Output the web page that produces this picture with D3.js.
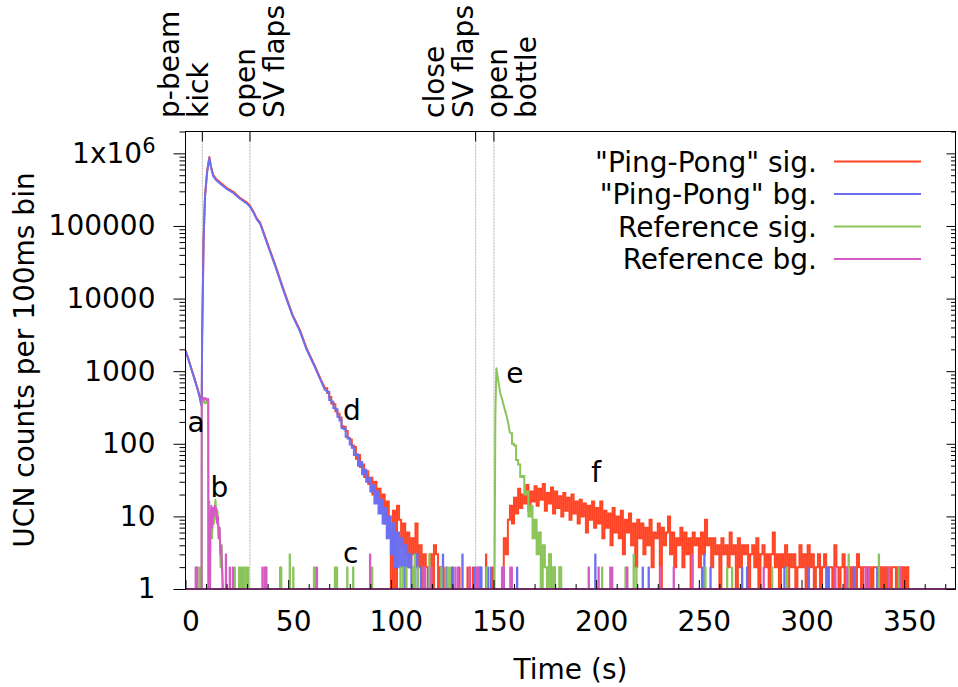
<!DOCTYPE html>
<html>
<head>
<meta charset="utf-8">
<script src="https://cdn.jsdelivr.net/npm/d3@7"></script>
<style>
  body { margin: 0; background: #fff; }
  svg text { font-family: "DejaVu Sans", sans-serif; fill: #000; }
</style>
</head>
<body>
<svg id="chart" width="958" height="687"></svg>
<script>
// ---- data (time in s, counts per 100 ms bin) ----
const seriesNames = ['"Ping-Pong" sig.', '"Ping-Pong" bg.', 'Reference sig.', 'Reference bg.'];
const seriesColors = ["#ff4525", "#6b6ff0", "#8ac45b", "#d65ac4"];

const eventTimes = [8.2, 31.4, 141.3, 150.2];
const eventLabels = [["p-beam", "kick"], ["open", "SV flaps"], ["close", "SV flaps"], ["open", "bottle"]];
const eventLabelT = [-3.4, 34.0, 126.0, 156.8];

const xTicks = [0, 50, 100, 150, 200, 250, 300, 350];
const yTicks = [1, 10, 100, 1000, 10000, 100000, 1000000];

const notes = [["a", 1.0, 145], ["b", 12.2, 18.5], ["c", 76.7, 2.28], ["d", 76.7, 213], ["e", 156.2, 688], ["f", 197.6, 29.8]];

const pingSigCurve = [[0,1950],[1,1600],[2,1300],[3,1050],[4,860],[5,700],[6,560],[7,440],[7.6,360],[7.9,345],
  [8.1,3000],[8.4,11000],[8.8,65000],[9.5,260000],[10.5,560000],[11.6,890000],[12.4,660000],[13.5,505000],
  [15,440000],[16.8,400000],[20,335000],[23.3,295000],[26.5,245000],[29.8,212000],[31.4,190000],[33,160000],
  [34.7,127000],[36.3,112000],[40,57000],[44,27500],[47.6,13700],[52,6100],[55.8,3650],[59,2050],[63,1180],
  [66,760],[68,580]];
const pingSigTailStart = 68;
const pingSigTail = [580,500,440,360,350,280,260,230,175,170,150,120,115,95,90,62,70,48,52,35,42,28,34,20,30,16,
  24,12,20,8,16,6,1,12,1,14,9,4,8,3,6,2,5,3,8,2,4,1,3,2,1,3,1,4,3,1,2,1];
const pingSigBumpStart = 153;
const pingSigBump = [1,1,5,3,9,14,8,18,11,24,13,20,15,27,12,22,16,26,14,24,17,28,12,21,15,25,11,22,13,19,
  10,21,12,18,9,20,11,16,8,17,10,15,6,14,9,16,7,13,8,16,5,12,7,11,4,13,6,10,5,12,
  3,9,6,11,4,8,2,9,5,8,3,7,4,9,2,6,5,8,1,7,4,6,10,3,6,2,5,4,7,2,
  6,3,5,1,6,4,5,2,6,3,9,4,5,2,5,3,4,1,5,3,4,2,6,3,4,1,5,2,4,3,
  4,1,3,4,2,5,1,3,4,2,3,1,3,6,2,3,1,3,2,4,1,3,2,3,1,2,4,2,3,1,
  4,2,3,1,2,3,1,2,3,1,2,2,1,4,2,1,2,3,1,2,2,1,2,1,3,2,1,2,2,1,
  2,1,2,2,1,2,1,2,1,2,1,2,2,1,2,1,2,1,2,1];
const pingSigSpikes = [[125.5,2],[129.6,2],[133.2,2],[137.2,2],[138.3,2],[139.8,2],[143.1,2],[146.2,3],[149.4,2]];

const pingBgCurve = [[0,1900],[1,1580],[2,1280],[3,1030],[4,840],[5,680],[6,545],[7,425],[7.6,345],[7.9,330],
  [8.1,2800],[8.4,10500],[8.8,62000],[9.5,250000],[10.5,540000],[11.6,860000],[12.4,640000],[13.5,485000],
  [15,425000],[16.8,385000],[20,325000],[23.3,285000],[26.5,237000],[29.8,205000],[31.4,184000],[33,155000],
  [34.7,123000],[36.3,108000],[40,55000],[44,26500],[47.6,13200],[52,5900],[55.8,3500],[59,1980],[63,1140],
  [66,730],[68,540]];
const pingBgTailStart = 68;
const pingBgTail = [540,520,400,380,310,300,235,210,165,160,125,118,98,88,70,72,50,56,38,44,30,34,22,27,15,22,
  11,17,8,13,5,10,3,8,2,6,2,5,1,4,2,3,1,2,3,1];
const pingBgSpikes = [[114.5,2],[118,2],[124.4,2],[125.2,3],[126.9,2],[130.1,2],[134.7,3],[140.7,2],[141.8,2],
  [143.4,2],[143.9,2],[147.2,2],[148.6,2],[154.8,2],[161.3,2],[199.4,3],[222.5,2],[225.4,2],[251.4,2],[252.5,3],
  [255.5,2],[270.9,2],[273.3,2],[291.5,2],[303.4,2],[312.3,2],[313.1,2],[325.3,2],[336.7,2]];

const refSigCurve = [[7.85,1],[7.95,380],[8.5,372],[9,390],[9.5,360],[10,380],[10.5,365],[11.05,375],[11.15,1],
  [11.5,1],[11.6,16],[11.9,4],[12.4,9],[12.9,5],[13.4,12],[13.9,8],[14.6,17],[15.1,9],[15.6,12],[16.1,5],
  [16.6,7],[17.1,2],[17.6,4],[18.1,1]];
const refSigPeak = [[150.5,1],[150.9,250],[151.4,1100],[152.2,780],[153.2,510],[154.3,400],[155.3,310],
  [156.4,240],[157.2,190],[158,140]];
const refSigTailStart = 158;
const refSigTail = [140,100,95,60,52,35,36,20,22,10,14,5,9,3,6,1,4,2,1,3,1,2,1,1,2,1];
const refSigSpikes = [[5.7,2],[6.9,2],[23.8,2],[25.9,2],[26.8,2],[27.8,2],[28.6,2],[29.6,2],[30.3,2],[39.2,2],
  [45.9,2],[46.4,2],[50.6,3],[52.3,2],[62.4,2],[63,2],[72.6,2],[73.6,2],[78.6,2],[81.5,2],[90.7,2],[104.5,2],
  [105.7,2],[107.4,2],[110.7,2],[111.5,3],[113,2],[118.6,3],[124.4,2],[127.5,2],[128.5,2],[146.4,2],[202.7,2],
  [214.1,2],[214.9,2],[218.1,3],[219.4,2],[253,2],[263.6,2],[266,2],[285.5,2],[292.8,2],[322.8,3],[337.5,3],
  [347.2,2]];

const refBgCurve = [[7.85,1],[7.9,415],[8.4,400],[8.9,430],[9.4,405],[9.9,425],[10.4,400],[11.05,415],[11.2,1],
  [12,1],[12.2,10],[12.6,14],[13,7],[13.4,13],[13.8,10],[14.2,14],[14.6,11],[15,13],[15.4,8],[15.8,10],
  [16.2,5],[16.6,7],[17,3],[17.4,4],[17.8,2],[18.2,1]];
const refBgSpikes = [[4.8,2],[5.4,2],[19.5,3],[21.4,2],[22.9,2],[37.3,2],[38.3,2],[39,2],[63.8,2],[89.7,3],
  [115.8,2],[116.5,2],[119.5,2],[131.3,2],[132.6,2],[138.2,2],[141.5,2],[142.5,2],[154,2],[154.7,2],[158,2],
  [158.7,2],[196.2,2],[201,2],[206.7,2],[207.6,2],[214.9,2],[231.1,2],[237.6,2],[246.5,3],[281.4,2],[316.3,2],
  [322,2],[331,2],[332.6,2],[342.3,2],[348,2]];

// ---- chart ----
const svg = d3.select("#chart");
const plotLeft = 185.5, plotRight = 955.5, plotTop = 131.5, plotBottom = 589;
const fontSize = "28px";

const x = d3.scaleLinear().domain([0, 375]).range([plotLeft, plotRight]);
const y = d3.scaleLog().domain([1, 2e6]).range([plotBottom, plotTop]);

const seq = (start, vals) => vals.map((v, i) => [start + i, v]);
const smooth = d3.line().x(d => x(d[0])).y(d => y(d[1]));
const stepped = d3.line().x(d => x(d[0])).y(d => y(d[1])).curve(d3.curveStepAfter);

const series = [
  { smooth: [pingSigCurve], noisy: [seq(pingSigTailStart, pingSigTail), seq(pingSigBumpStart, pingSigBump)], spikes: pingSigSpikes },
  { smooth: [pingBgCurve], noisy: [seq(pingBgTailStart, pingBgTail)], spikes: pingBgSpikes },
  { smooth: [refSigCurve, refSigPeak], noisy: [seq(refSigTailStart, refSigTail)], spikes: refSigSpikes },
  { smooth: [refBgCurve], noisy: [], spikes: refBgSpikes }
];

svg.append("defs").append("clipPath").attr("id", "plot")
  .append("rect").attr("x", plotLeft).attr("y", plotTop - 1)
  .attr("width", plotRight - plotLeft).attr("height", plotBottom - plotTop + 2);

// event lines
eventTimes.forEach(t => {
  svg.append("line").attr("x1", x(t)).attr("x2", x(t)).attr("y1", plotTop).attr("y2", plotBottom)
    .attr("stroke", "#b4b4b4").attr("stroke-width", 1).attr("stroke-dasharray", "2,1");
});

const dataG = svg.append("g").attr("clip-path", "url(#plot)");
series.forEach((s, i) => {
  const g = dataG.append("g").attr("fill", "none").attr("stroke", seriesColors[i]).attr("stroke-width", 2)
    .attr("stroke-linejoin", "round");
  g.append("line").attr("x1", x(0)).attr("x2", x(375)).attr("y1", y(1)).attr("y2", y(1));
  s.smooth.forEach(pts => g.append("path").attr("d", smooth(pts)));
  s.noisy.forEach(pts => g.append("path").attr("d", stepped(pts)).attr("stroke-linejoin", "miter"));
  g.selectAll("path.spike").data(s.spikes).join("path").attr("class", "spike")
    .attr("stroke-width", 1.5)
    .attr("d", d => `M${x(d[0])},${y(1)}V${y(d[1])}H${x(d[0] + 0.4)}V${y(1)}`);
});

// border
svg.append("rect").attr("x", plotLeft).attr("y", plotTop)
  .attr("width", plotRight - plotLeft).attr("height", plotBottom - plotTop)
  .attr("fill", "none").attr("stroke", "#000").attr("stroke-width", 1);

// axes
const yMinor = y.ticks().filter(d => !yTicks.includes(d));
const xMinor = d3.range(0, 376, 10).filter(d => !xTicks.includes(d));

const yAxis = svg.append("g").attr("transform", `translate(${plotLeft},0)`)
  .call(d3.axisLeft(y).tickValues(yTicks).tickSize(12).tickPadding(18)
    .tickFormat(d => d === 1e6 ? "1x10" : String(d)));
yAxis.selectAll("text").attr("font-size", fontSize).attr("font-family", "DejaVu Sans")
  .each(function(d) {
    if (d === 1e6) d3.select(this).append("tspan").attr("dy", "-10").attr("font-size", "21px").text("6");
  });
svg.append("g").attr("transform", `translate(${plotLeft},0)`)
  .call(d3.axisLeft(y).tickValues(yMinor).tickSize(6).tickFormat(""));
svg.append("g").attr("transform", `translate(${plotRight},0)`)
  .call(d3.axisLeft(y).tickValues(yTicks).tickSize(9).tickFormat(""));
svg.append("g").attr("transform", `translate(${plotRight},0)`)
  .call(d3.axisLeft(y).tickValues(yMinor).tickSize(4.5).tickFormat(""));

svg.append("g").attr("transform", `translate(0,${plotBottom})`)
  .call(d3.axisTop(x).tickValues(xTicks).tickSize(9).tickFormat(""));
svg.append("g").attr("transform", `translate(0,${plotBottom})`)
  .call(d3.axisTop(x).tickValues(xMinor).tickSize(5).tickFormat(""));
const xAxis = svg.append("g").attr("transform", `translate(0,${plotBottom})`)
  .call(d3.axisBottom(x).tickValues(xTicks).tickSize(0).tickPadding(22).tickFormat(d3.format("d")));
xAxis.selectAll("text").attr("font-size", fontSize).attr("font-family", "DejaVu Sans").attr("dx", 5);

svg.selectAll(".domain").remove();
svg.selectAll(".tick line").attr("stroke", "#000");

// event ticks on top and labels
eventTimes.forEach((t, i) => {
  svg.append("line").attr("x1", x(t)).attr("x2", x(t)).attr("y1", plotTop).attr("y2", plotTop + 10)
    .attr("stroke", "#000").attr("stroke-width", 1);
  eventLabels[i].forEach((txt, j) => {
    const lx = x(eventLabelT[i]) + j * 29;
    svg.append("text").attr("transform", `translate(${lx},118) rotate(-90)`)
      .attr("font-size", fontSize).text(txt);
  });
});

// axis titles
svg.append("text").attr("transform", "translate(34,360) rotate(-90)").attr("text-anchor", "middle")
  .attr("font-size", fontSize).text("UCN counts per 100ms bin");
svg.append("text").attr("x", (plotLeft + plotRight) / 2).attr("y", 679).attr("text-anchor", "middle")
  .attr("font-size", fontSize).text("Time (s)");

// annotations
notes.forEach(([txt, t, v]) => {
  svg.append("text").attr("x", x(t)).attr("y", y(v)).attr("font-size", fontSize).text(txt);
});

// legend
seriesNames.forEach((name, i) => {
  const cy = 161.5 + i * 32.5;
  svg.append("text").attr("x", 817).attr("y", cy + 10).attr("text-anchor", "end")
    .attr("font-size", fontSize).text(name);
  svg.append("line").attr("x1", 834).attr("x2", 921).attr("y1", cy).attr("y2", cy)
    .attr("stroke", seriesColors[i]).attr("stroke-width", 2);
});
</script>
</body>
</html>
